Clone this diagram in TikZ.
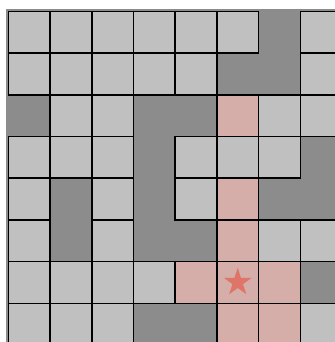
\documentclass[tikz,border=0pt]{standalone}
\usetikzlibrary{shapes.geometric}
\definecolor{wallgrey}{RGB}{140,140,140}
\definecolor{freegrey}{RGB}{192,192,192}
\definecolor{pathpink}{RGB}{213,173,169}
\definecolor{starred}{RGB}{222,117,104}

\begin{document}
\begin{tikzpicture}[
    cellF/.style={draw=black, line width=1pt, fill=freegrey},
    cellP/.style={draw=black, line width=1pt, fill=pathpink},
    cellW/.style={},
    goalstar/.style={star, star points=5, star point ratio=2.618,
        fill=starred, minimum size=0.7cm, inner sep=0pt}
]
    \useasboundingbox (-0.204,-7.93) rectangle (7.83,0.276);
    \clip (-0.204,-7.93) rectangle (7.83,0.276);

    % Walls: one grey sheet under the grid
    \fill[wallgrey] (-0.06,0.06) rectangle (8.5,-8.5);

    % Cells, row by row (F = free, W = wall, P = path)
    \foreach \cells [count=\r from 0] in {
        {F,F,F,F,F,F,W,F},
        {F,F,F,F,F,W,W,F},
        {W,F,F,W,W,P,F,F},
        {F,F,F,W,F,F,F,W},
        {F,W,F,W,F,P,W,W},
        {F,W,F,W,W,P,F,F},
        {F,F,F,F,P,P,P,W},
        {F,F,F,W,W,P,P,F}}
      \foreach \t [count=\c from 0] in \cells
        \path[cell\t] (\c,-\r) rectangle ++(1,-1);

    % Goal
    \node[goalstar] (goal) at (5.5,-6.5) {};
\end{tikzpicture}
\end{document}
